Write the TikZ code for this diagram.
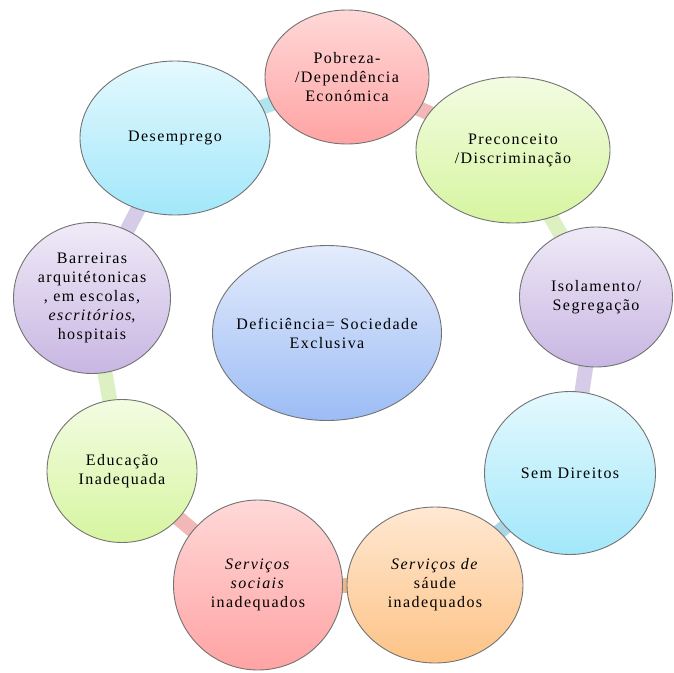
\documentclass[tikz,border=0pt]{standalone}
\usepackage{fontspec}
\setmainfont{Liberation Serif}[LetterSpace=9]
\usetikzlibrary{shapes.geometric,backgrounds}
\definecolor{pinkT}{HTML}{FFD8D8}\definecolor{pinkB}{HTML}{FFA3A3}
\definecolor{greenT}{HTML}{F3FCE2}\definecolor{greenB}{HTML}{D6F5A0}
\definecolor{lavT}{HTML}{EFEAF7}\definecolor{lavB}{HTML}{C8B6E2}
\definecolor{cyanT}{HTML}{E4F9FE}\definecolor{cyanB}{HTML}{A2E7FA}
\definecolor{peachT}{HTML}{FFE8D2}\definecolor{peachB}{HTML}{FDC386}
\definecolor{blueT}{HTML}{E4ECFC}\definecolor{blueB}{HTML}{9CBCF5}
\definecolor{lnCyan}{HTML}{B2E4EE}\definecolor{lnPink}{HTML}{F2B8B8}
\definecolor{lnGreen}{HTML}{DCF0C2}\definecolor{lnLav}{HTML}{D6CCE8}
\definecolor{lnBlue}{HTML}{A9D7E6}\definecolor{lnOrange}{HTML}{E6B98C}
\tikzset{
  bub/.style={ellipse, draw=black!55, line width=0.9pt, inner sep=0pt},
  every label/.style={align=center, font=\fontsize{16}{19}\selectfont, inner sep=0pt},
  pinkb/.style={bub, top color=pinkT, bottom color=pinkB},
  greenb/.style={bub, top color=greenT, bottom color=greenB},
  lavb/.style={bub, top color=lavT, bottom color=lavB},
  cyanb/.style={bub, top color=cyanT, bottom color=cyanB},
  peachb/.style={bub, top color=peachT, bottom color=peachB},
  blueb/.style={bub, top color=blueT, bottom color=blueB},
  link/.style={line width=15pt}
}
\begin{document}
\begin{tikzpicture}[x=1pt,y=-1pt]
\useasboundingbox (0,0) rectangle (674,672);
\node[pinkb, minimum width=164pt, minimum height=134pt, label={center:Pobreza-\\/Dependência\\Económica}] (pob) at (347,77) {};
\node[cyanb, minimum width=190pt, minimum height=154pt, label={center:Desemprego}] (des) at (175,138) {};
\node[greenb, minimum width=194pt, minimum height=146pt, label={center:Preconceito\\/Discriminação}] (pre) at (513,150) {};
\node[lavb, minimum width=153pt, minimum height=140pt, label={center:Isolamento/\\Segregação}] (iso) at (596,297) {};
\node[cyanb, minimum width=171pt, minimum height=163pt, label={center:Sem Direitos}] (sem) at (570,473) {};
\node[peachb, minimum width=176pt, minimum height=156pt, label={center:\textit{Serviços de}\\sáude\\inadequados}] (sau) at (435,585) {};
\node[pinkb, minimum width=169pt, minimum height=170pt, label={center:\textit{Serviços}\\\textit{sociais}\\inadequados}] (soc) at (258,585) {};
\node[greenb, minimum width=150pt, minimum height=143pt, label={center:Educação\\Inadequada}] (edu) at (122,471) {};
\node[lavb, minimum width=157pt, minimum height=151pt, label={center:Barreiras\\arquitétonicas\\, em escolas,\\\textit{escritórios},\\hospitais}] (bar) at (92,298) {};
\node[blueb, minimum width=229pt, minimum height=175pt, label={center:Deficiência= Sociedade\\Exclusiva}] (cen) at (327,333) {};
\begin{scope}[on background layer]
\draw[link, lnCyan] (des.center) -- (pob.center);
\draw[link, lnPink] (pob.center) -- (pre.center);
\draw[link, lnGreen] (pre.center) -- (iso.center);
\draw[link, lnLav] (iso.center) -- (sem.center);
\draw[link, lnBlue] (sem.center) -- (sau.center);
\draw[link, lnOrange] (sau.center) -- (soc.center);
\draw[link, lnPink] (soc.center) -- (edu.center);
\draw[link, lnGreen] (edu.center) -- (bar.center);
\draw[link, lnLav] (bar.center) -- (des.center);
\end{scope}
\end{tikzpicture}
\end{document}
